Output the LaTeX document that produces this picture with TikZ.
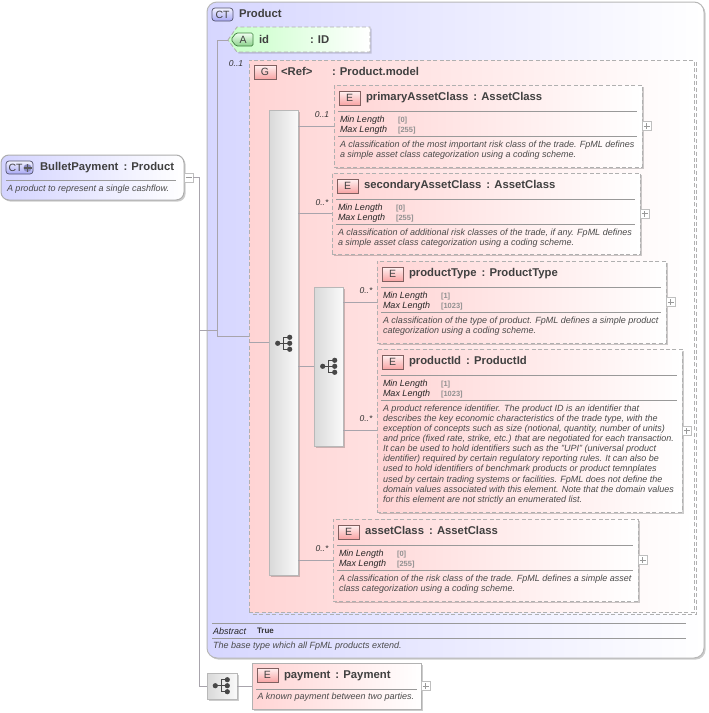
\documentclass[tikz,border=0pt]{standalone}
\usepackage{fontspec}
\setmainfont{Liberation Sans}
\usetikzlibrary{shadows,calc}
\definecolor{linec}{HTML}{A8A4AC}
\definecolor{rulec}{HTML}{999999}
\definecolor{dashc}{HTML}{B0B0B0}
\definecolor{titlec}{HTML}{404040}
\definecolor{descc}{HTML}{4A4A4A}
\definecolor{valc}{HTML}{909090}
\definecolor{pinkl}{HTML}{FFD4D4}
\definecolor{pinkm}{HTML}{FFEBEB}
\definecolor{badgep}{HTML}{F8A4A4}
\definecolor{badgeb}{HTML}{A8A8F4}
\definecolor{badgeline}{HTML}{806060}
\definecolor{badgectline}{HTML}{55556E}
\tikzset{
  softshadow/.style={drop shadow={shadow xshift=1.6pt,shadow yshift=-1.6pt,opacity=0.2,fill=black}},
  conn/.style={draw=linec,line width=0.8pt},
  rulel/.style={draw=rulec,line width=0.8pt},
  txt/.style={inner sep=0pt,outer sep=0pt,anchor=base west},
  titletxt/.style={txt,font=\fontsize{11.3}{13}\selectfont\bfseries,text=titlec},
  facet/.style={txt,font=\fontsize{9}{11}\selectfont\itshape,text=black!85},
  factval/.style={txt,font=\fontsize{7.5}{9}\selectfont\bfseries,text=valc},
  desctxt/.style={txt,anchor=north west,align=left,font=\fontsize{9}{10.1}\selectfont\itshape,text=descc},
  occ/.style={inner sep=0pt,font=\fontsize{8.5}{10}\selectfont\itshape,text=black!80},
  boxn/.style={inner sep=0pt,outer sep=0pt,rectangle},
  dashedbox/.style={boxn,draw=dashc,line width=0.9pt,dash pattern=on 4pt off 2.4pt,left color=pinkl,middle color=pinkm,right color=white,softshadow},
  solidbox/.style={boxn,draw=black!30,line width=0.9pt,left color=pinkl,middle color=pinkm,right color=white,softshadow},
  seqbox/.style={boxn,draw=black!28,line width=0.9pt,left color=black!15,right color=black!2,softshadow},
  badgeE/.style={boxn,draw=badgeline,line width=0.7pt,top color=pinkm!70,bottom color=badgep,font=\fontsize{10.5}{12}\selectfont,text=black!75},
  badgeCT/.style={boxn,draw=badgectline,line width=0.7pt,rounded corners=3pt,top color=blue!5,bottom color=badgeb,font=\fontsize{10.5}{12}\selectfont,text=black!75},
  badgetxt/.style={inner sep=0pt,font=\fontsize{10.5}{12}\selectfont,text=black!75},
  plusbox/.style={boxn,draw=black!25,line width=0.7pt,fill=white,minimum width=9pt,minimum height=9pt,
    path picture={\draw[black!40,line width=0.6pt] ($(path picture bounding box.center)+(-3pt,0)$) -- ($(path picture bounding box.center)+(3pt,0)$);
      \draw[black!40,line width=0.6pt] ($(path picture bounding box.center)+(0,-3pt)$) -- ($(path picture bounding box.center)+(0,3pt)$);}},
  minusbox/.style={boxn,draw=black!25,line width=0.7pt,fill=white,minimum width=9pt,minimum height=9pt,
    path picture={\draw[black!40,line width=0.6pt] ($(path picture bounding box.center)+(-3pt,0)$) -- ($(path picture bounding box.center)+(3pt,0)$);}},
  pics/treeicon/.style={code={
    \fill[black!72] (0,0) circle (2.6pt) (12,-6) circle (2.6pt) (12,0) circle (2.6pt) (12,6) circle (2.6pt);
    \draw[black!72,line width=0.9pt] (0,0) -- (12,0) (12,-6) -- (6,-6) -- (6,6) -- (12,6);
  }},
}
% name, x1,y1,x2,y2, style
\newcommand{\boxat}[6]{%
  \pgfmathsetmacro{\cxv}{(#2+#4)/2}\pgfmathsetmacro{\cyv}{(#3+#5)/2}%
  \pgfmathsetmacro{\wv}{#4-#2}\pgfmathsetmacro{\hv}{#5-#3}%
  \node[#6,minimum width=\wv pt,minimum height=\hv pt] (#1) at (\cxv,\cyv) {};}
% name, x1,y1,x2,y2, title, min, max, desc
\newcommand{\elem}[9]{%
  \boxat{#1}{#2}{#3}{#4}{#5}{dashedbox}
  \pgfmathsetmacro{\bxa}{#2+5}\pgfmathsetmacro{\bya}{#3+6}\pgfmathsetmacro{\bxb}{#2+26}\pgfmathsetmacro{\byb}{#3+20}%
  \boxat{#1-badge}{\bxa}{\bya}{\bxb}{\byb}{badgeE}
  \node[badgetxt] at (#1-badge) {E};
  \node[titletxt] (#1-title) at (#2+32,#3+15.5) {#6};
  \draw[rulel] (#2+4,#3+26.3) -- (#4-5,#3+26.3);
  \node[facet] (#1-minl) at (#2+6,#3+37.7) {Min Length};
  \node[factval] (#1-minv) at (#2+64,#3+37.2) {#7};
  \node[facet] (#1-maxl) at (#2+6,#3+47.7) {Max Length};
  \node[factval] (#1-maxv) at (#2+64,#3+47.2) {#8};
  \draw[rulel] (#2+4,#3+51.5) -- (#4-5,#3+51.5);
  \node[desctxt] (#1-desc) at (#2+6,#3+55.8) {#9};
  \node[plusbox,right=0pt] (#1-plus) at (#1.east) {};
}
\begin{document}
\begin{tikzpicture}[x=1pt,y=-1pt]
\useasboundingbox[fill=white] (0,0) rectangle (709,713);

% Product complex type
\boxat{prod}{207}{2}{704}{658}{boxn,draw=black!28,line width=1pt,rounded corners=10pt,left color=blue!16,middle color=blue!10,right color=white,softshadow}
\boxat{prodct}{212}{8}{233}{21}{badgeCT}
\node[badgetxt] at (prodct) {CT};
\node[titletxt] (prodtitle) at (239,17.5) {Product};

% Attribute
\coordinate (attrtip) at (228,40);
\shadedraw[draw=dashc,line width=0.9pt,dash pattern=on 4pt off 2.4pt,left color=green!22,middle color=green!9,right color=white,drop shadow={shadow xshift=1.6pt,shadow yshift=-1.6pt,opacity=0.15,fill=black}]
  (attrtip) -- (237,27) -- (370,27) -- (370,52) -- (237,52) -- cycle;
\shadedraw[draw=black!50!green!50!gray,line width=0.7pt,top color=green!6,bottom color=green!60!black!45,rounded corners=1.5pt]
  (231,39.5) -- (236,33) -- (253,33) -- (253,46) -- (236,46) -- cycle;
\node[badgetxt] (attrA) at (243,39.7) {A};
\node[titletxt] (attrname) at (259,43) {id};
\node[titletxt] (attrtype) at (310,43) {: ID};

% Group
\draw[draw=dashc,line width=0.9pt,dash pattern=on 4pt off 2.4pt] (696.5,62) -- (696.5,614.5) -- (251,614.5);
\boxat{grp}{249}{60}{694}{612.5}{boxn,draw=dashc,line width=0.9pt,dash pattern=on 4pt off 2.4pt,left color=pinkl,middle color=pinkm!85!pinkl,right color=white}
\boxat{grpbadge}{254}{65}{276}{79}{badgeE}
\node[badgetxt] at (grpbadge) {G};
\node[titletxt] (grpref) at (281,75.5) {<Ref>};
\node[titletxt] (grpname) at (332,75.5) {: Product.model};
\node[occ] (occgrp) at (236,64) {0..1};

% Sequences
\boxat{seqA}{269}{110}{298}{575}{seqbox}
\boxat{seqB}{314}{287}{343}{446}{seqbox}

% Elements
\elem{primary}{334}{85}{642}{167}{primaryAssetClass\, : AssetClass}{[0]}{[255]}{A classification of the most important risk class of the trade. FpML defines\\a simple asset class categorization using a coding scheme.}
\elem{secondary}{332}{173}{640}{254}{secondaryAssetClass\, : AssetClass}{[0]}{[255]}{A classification of additional risk classes of the trade, if any. FpML defines\\a simple asset class categorization using a coding scheme.}
\elem{ptype}{377}{261}{666}{343}{productType\, : ProductType}{[1]}{[1023]}{A classification of the type of product. FpML defines a simple product\\categorization using a coding scheme.}
\elem{pid}{377}{349}{682}{512}{productId\, : ProductId}{[1]}{[1023]}{A product reference identifier. The product ID is an identifier that\\describes the key economic characteristics of the trade type, with the\\exception of concepts such as size (notional, quantity, number of units)\\and price (fixed rate, strike, etc.) that are negotiated for each transaction.\\It can be used to hold identifiers such as the "UPI" (universal product\\identifier) required by certain regulatory reporting rules. It can also be\\used to hold identifiers of benchmark products or product temnplates\\used by certain trading systems or facilities. FpML does not define the\\domain values associated with this element. Note that the domain values\\for this element are not strictly an enumerated list.}
\elem{asset}{333}{519}{638}{601}{assetClass\, : AssetClass}{[0]}{[255]}{A classification of the risk class of the trade. FpML defines a simple asset\\class categorization using a coding scheme.}

\node[occ] (occ1) at (322,115) {0..1};
\node[occ] (occ2) at (322,203) {0..*};
\node[occ] (occ3) at (366,291) {0..*};
\node[occ] (occ4) at (366,419) {0..*};
\node[occ] (occ5) at (322,549) {0..*};

% Connectors in the group
\draw[conn] (seqA.west) -- (seqA.west -| grp.west);
\draw[conn] (seqB.west) -- (seqB.west -| seqA.east);
\draw[conn] (primary.west) -- (primary.west -| seqA.east);
\draw[conn] (secondary.west) -- (secondary.west -| seqA.east);
\draw[conn] (asset.west) -- (asset.west -| seqA.east);
\draw[conn] (ptype.west) -- (ptype.west -| seqB.east);
\draw[conn] (pid.west) -- (pid.west -| seqB.east);

\pic at (277.7,343.3) {treeicon};
\pic at (322.7,366.3) {treeicon};

% Product footer
\draw[rulel] (212,623) -- (686,623);
\node[facet] (absl) at (213,634.5) {Abstract};
\node[txt,font=\fontsize{8}{10}\selectfont\bfseries,text=black!80] (absv) at (257,633.5) {True};
\draw[rulel] (212,638) -- (686,638);
\node[desctxt] (proddesc) at (213,642) {The base type which all FpML products extend.};

% Root
\boxat{root}{1}{155}{184}{200}{boxn,draw=black!32,line width=1pt,rounded corners=8pt,left color=blue!17,middle color=blue!9,right color=white,softshadow}
\boxat{rootct}{6}{161}{33}{174}{badgeCT}
\node[badgetxt] at (15.5,167.7) {CT};
\fill[blue!30!gray!70] (27.5,168) circle (4pt);
\draw[black!65,line width=1.6pt] (23.5,168) -- (31.5,168) (27.5,164) -- (27.5,172);
\node[titletxt] (roottitle) at (40,170) {BulletPayment\, : Product};
\draw[rulel] (6,180.5) -- (176,180.5);
\node[desctxt] (rootdesc) at (7,184.5) {A product to represent a single cashflow.};
\node[minusbox,right=0pt] (rootminus) at (root.east) {};

% Payment
\boxat{seqC}{207}{673}{237}{699}{seqbox}
\pic at (215.3,685.7) {treeicon};
\boxat{pay}{252}{663}{421}{709}{solidbox}
\boxat{paybadge}{257}{668}{278}{682}{badgeE}
\node[badgetxt] at (paybadge) {E};
\node[titletxt] (paytitle) at (284,678.5) {payment\, : Payment};
\draw[rulel] (256,689) -- (417,689);
\node[desctxt] (paydesc) at (257.5,693) {A known payment between two parties.};
\node[plusbox,right=0pt] (payplus) at (pay.east) {};

% Root connectors
\coordinate (bus) at (199,177.5);
\draw[conn] (rootminus.east) -- (bus) -- (bus |- seqC.west) -- (seqC.west);
\draw[conn] (seqC.east) -- (pay.west);
\coordinate (attrbus) at (217,40);
\draw[conn] (bus |- prod.west) -- (attrbus |- prod.west);
\draw[conn] (attrtip) -- (attrbus) -- (attrbus |- grp.west) -- (grp.west);
\end{tikzpicture}
\end{document}
